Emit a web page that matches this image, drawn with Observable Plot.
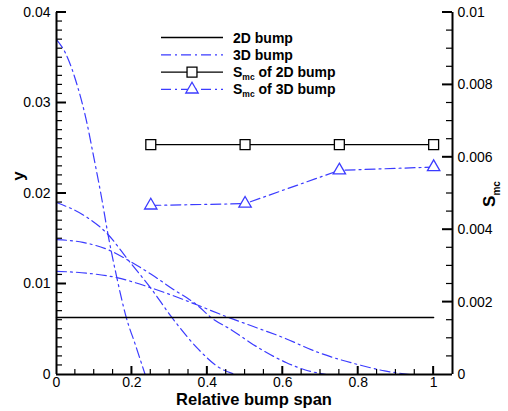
<!DOCTYPE html>
<html>
<head>
<meta charset="utf-8">
<script src="https://cdn.jsdelivr.net/npm/d3@7"></script>
<script src="https://cdn.jsdelivr.net/npm/@observablehq/plot@0.6"></script>
<style>
  html, body { margin: 0; padding: 0; background: #fff; }
  #chart svg { display: block; }
</style>
</head>
<body>
<div id="chart"></div>
<script>
// ---- data ----
const curve1X = [0, 0.024, 0.056, 0.079, 0.097, 0.121, 0.136, 0.160, 0.185, 0.209, 0.235];
const curve1Y = [0.0370, 0.0355, 0.0318, 0.0281, 0.0244, 0.0192, 0.0156, 0.0107, 0.0063, 0.0033, 0];
const curve2X = [0, 0.072, 0.136, 0.191, 0.249, 0.306, 0.376, 0.43, 0.474];
const curve2Y = [0.0190, 0.0176, 0.0155, 0.0126, 0.0096, 0.0063, 0.0028, 0.0008, 0];
const curve3X = [0, 0.07, 0.147, 0.191, 0.25, 0.31, 0.372, 0.41, 0.465, 0.522, 0.61, 0.66, 0.716];
const curve3Y = [0.0149, 0.0146, 0.0136, 0.0126, 0.0111, 0.0094, 0.0077, 0.0063, 0.0049, 0.0033, 0.0013, 0.0005, 0];
const curve4X = [0, 0.08, 0.160, 0.249, 0.31, 0.372, 0.45, 0.522, 0.6, 0.69, 0.804, 0.87, 0.937];
const curve4Y = [0.0114, 0.0112, 0.0107, 0.0096, 0.0087, 0.0077, 0.0064, 0.0053, 0.0041, 0.0025, 0.00105, 0.0004, 0];

const bump2DX = [0, 1];
const bump2DY = [0.0063, 0.0063];

const smcX = [0.25, 0.5, 0.75, 1];
const smc2D = [0.00635, 0.00635, 0.00635, 0.00635];
const smc3D = [0.00467, 0.00472, 0.00564, 0.00573];

const xMajorTicks = [0, 0.2, 0.4, 0.6, 0.8, 1];
const xMinorTicks = [0.05, 0.1, 0.15, 0.25, 0.3, 0.35, 0.45, 0.5, 0.55, 0.65, 0.7, 0.75, 0.85, 0.9, 0.95];
const yMajorTicks = [0, 0.01, 0.02, 0.03, 0.04];
const yMinorTicks = d3.range(1, 40).filter(i => i % 10 !== 0).map(i => i / 1000);
const smcMajorTicks = [0, 0.002, 0.004, 0.006, 0.008, 0.01];
const smcMinorTicks = d3.range(1, 20).filter(i => i % 4 !== 0).map(i => i * 0.0005);

const xDomain = [0, 1.05];
const yDomain = [0, 0.04];
const smcDomain = [0, 0.01];
const k = yDomain[1] / smcDomain[1]; // secondary axis scale factor

// ---- build tables ----
const curves = [[curve1X, curve1Y], [curve2X, curve2Y], [curve3X, curve3Y], [curve4X, curve4Y]]
  .flatMap(([xs, ys], c) => xs.map((x, i) => ({x, y: ys[i], c})));
const bump2D = bump2DX.map((x, i) => ({x, y: bump2DY[i]}));
const s2 = smcX.map((x, i) => ({x, y: smc2D[i] * k}));
const s3 = smcX.map((x, i) => ({x, y: smc3D[i] * k}));

const blue = "#3b3bff";
const dash = "10,4,2,4";
const fmtY = d => String(+d.toFixed(4));
const fmtS = d => String(+(d / k).toFixed(5));
const font = "'Liberation Sans', Arial, Helvetica, sans-serif";

const plot = Plot.plot({
  width: 508,
  height: 411,
  marginLeft: 56,
  marginRight: 56,
  marginTop: 12,
  marginBottom: 37,
  style: {fontFamily: font, fontSize: "14px", color: "black", background: "white"},
  x: {domain: xDomain, axis: null},
  y: {domain: yDomain, axis: null},
  marks: [
    Plot.line(curves, {x: "x", y: "y", z: "c", stroke: blue, strokeWidth: 1.2, strokeDasharray: dash, curve: "monotone-x"}),
    Plot.line(bump2D, {x: "x", y: "y", stroke: "black", strokeWidth: 1.4}),
    Plot.line(s2, {x: "x", y: "y", stroke: "black", strokeWidth: 1.4}),
    Plot.line(s3, {x: "x", y: "y", stroke: blue, strokeWidth: 1.2, strokeDasharray: dash}),
    Plot.dot(s2, {x: "x", y: "y", symbol: "square", r: 5.6, stroke: "black", fill: "white", strokeWidth: 1.3}),
    Plot.dot(s3, {x: "x", y: "y", symbol: "triangle", r: 4.6, stroke: blue, fill: "white", strokeWidth: 1.3}),
    // axis lines
    Plot.ruleX([xDomain[0], xDomain[1]], {stroke: "black", strokeWidth: 2}),
    Plot.ruleY([0], {stroke: "black", strokeWidth: 2}),
    // tick labels
    Plot.axisY(yMajorTicks, {anchor: "left", tickSize: 0, tickPadding: 6, tickFormat: fmtY, fontSize: 14, label: null}),
    Plot.axisY(smcMajorTicks.map(v => v * k), {anchor: "right", tickSize: 0, tickPadding: 5, tickFormat: fmtS, fontSize: 14, label: null}),
    Plot.axisX(xMajorTicks, {anchor: "bottom", tickSize: 0, tickPadding: 3, tickFormat: fmtY, fontSize: 14, label: null})
  ]
});

document.getElementById("chart").appendChild(plot);

const svg = d3.select(plot);
const xs = v => plot.scale("x").apply(v);
const ys = v => plot.scale("y").apply(v);
const x0 = xs(xDomain[0]), x1 = xs(xDomain[1]), yb = ys(0);

// ---- inward tick marks (positions from Plot's scales) ----
const tg = svg.append("g").attr("stroke", "black").attr("fill", "none");
function hTicks(vals, xStart, len, w) {
  vals.forEach(v => tg.append("line")
    .attr("x1", xStart).attr("x2", xStart + len)
    .attr("y1", ys(v)).attr("y2", ys(v)).attr("stroke-width", w));
}
function vTicks(vals, len, w) {
  vals.forEach(v => tg.append("line")
    .attr("x1", xs(v)).attr("x2", xs(v))
    .attr("y1", yb).attr("y2", yb - len).attr("stroke-width", w));
}
hTicks(yMinorTicks, x0, 6, 1.2);
hTicks(yMajorTicks.filter(v => v > 0), x0, 10, 2);
hTicks(smcMinorTicks.map(v => v * k), x1, -6, 1.2);
hTicks(smcMajorTicks.filter(v => v > 0).map(v => v * k), x1, -10, 2);
vTicks(xMinorTicks, 5, 1.2);
vTicks(xMajorTicks.filter(v => v > 0), 8, 2);

// ---- axis titles ----
svg.append("text")
  .attr("x", 254).attr("y", 405)
  .attr("text-anchor", "middle")
  .attr("font-family", font).attr("font-weight", "bold").attr("font-size", 16.5)
  .attr("fill", "black")
  .text("Relative bump span");

svg.append("text")
  .attr("transform", "translate(24,176) rotate(-90)")
  .attr("text-anchor", "middle")
  .attr("font-family", font).attr("font-weight", "bold").attr("font-size", 17)
  .attr("fill", "black")
  .text("y");

const smcLabel = svg.append("text")
  .attr("transform", "translate(495,194) rotate(-90)")
  .attr("text-anchor", "middle")
  .attr("font-family", font).attr("font-weight", "bold").attr("font-size", 17)
  .attr("fill", "black");
smcLabel.append("tspan").text("S");
smcLabel.append("tspan").attr("font-size", 10).attr("dy", 5).text("mc");

// ---- legend ----
const legendItems = [
  {label: "2D bump", stroke: "black", dash: null, symbol: null, sub: false},
  {label: "3D bump", stroke: blue, dash: dash, symbol: null, sub: false},
  {label: " of 2D bump", stroke: "black", dash: null, symbol: "square", sub: true},
  {label: " of 3D bump", stroke: blue, dash: dash, symbol: "triangle", sub: true}
];
const lg = svg.append("g");
legendItems.forEach((d, i) => {
  const cy = 37.5 + i * 17.3;
  lg.append("line")
    .attr("x1", 161).attr("x2", 223).attr("y1", cy).attr("y2", cy)
    .attr("stroke", d.stroke).attr("stroke-width", d.stroke === "black" ? 1.4 : 1.2)
    .attr("stroke-dasharray", d.dash);
  if (d.symbol) {
    const sym = d.symbol === "square" ? d3.symbolSquare : d3.symbolTriangle;
    const r = d.symbol === "square" ? 5.6 : 4.6;
    lg.append("path")
      .attr("transform", `translate(192,${cy})`)
      .attr("d", d3.symbol(sym, Math.PI * r * r)())
      .attr("fill", "white").attr("stroke", d.stroke).attr("stroke-width", 1.3);
  }
  const t = lg.append("text")
    .attr("x", 233).attr("y", cy + 5)
    .attr("text-anchor", "start")
    .attr("font-family", font).attr("font-weight", "bold").attr("font-size", 14)
    .attr("fill", "black");
  if (d.sub) {
    t.append("tspan").text("S");
    t.append("tspan").attr("font-size", 8.5).attr("dy", 3).text("mc");
    t.append("tspan").attr("dy", -3).text(d.label);
  } else {
    t.text(d.label);
  }
});
</script>
</body>
</html>
